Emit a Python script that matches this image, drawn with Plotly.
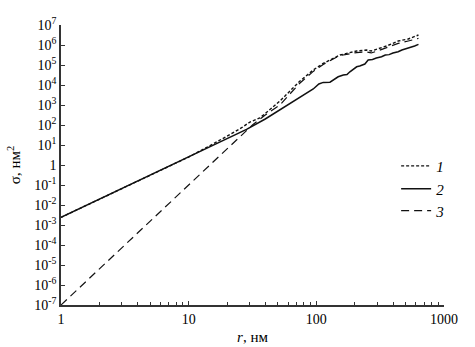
import plotly.graph_objects as go

# Curve 1 (dotted): total cross-section
r1 = [1, 10, 15.5, 25.1, 30.2, 36.1, 51.9, 63.1, 74.5, 94.6, 113.2, 135.5, 153.1,
      172.6, 207, 247.7, 269.2, 300, 354.8, 437.5, 524.8, 631]
s1 = [2.4e-3, 2.5, 11.2, 63, 141, 224, 1585, 5620, 15850, 56200, 1.2e5, 2.14e5, 3.16e5,
      3.8e5, 5.0e5, 5.6e5, 5.0e5, 6.3e5, 8.9e5, 1.58e6, 2.0e6, 3.16e6]

# Curve 2 (solid)
r2 = [1, 15.8, 28.4, 39.8, 51.9, 70.1, 87.1, 94.6, 104.7, 113.2, 127.9, 138, 148.3,
      162.6, 173.8, 183.2, 207, 218.8, 226.5, 239.9, 254.7, 275.4, 295.1, 324.3,
      346.7, 371.5, 398.1, 437.5, 467.7, 501.2, 549.5, 588.8, 631]
s2 = [2.4e-3, 9.5, 60, 200, 560, 1900, 4500, 6300, 11200, 13500, 13800, 20000, 25700,
      31600, 33100, 45700, 81300, 89100, 1.0e5, 1.12e5, 1.78e5, 1.9e5, 2.24e5, 2.57e5,
      3.16e5, 3.3e5, 3.98e5, 4.57e5, 5.6e5, 6.3e5, 7.9e5, 8.9e5, 1.07e6]

# Curve 3 (dashed)
r3 = [1, 31.6, 39.8, 51.9, 63.1, 74.5, 94.6, 113.2, 135.5, 153.1, 172.6, 207, 247.7,
      269.2, 300, 354.8, 437.5, 524.8, 631]
s3 = [1e-7, 100, 316, 1000, 3980, 12600, 47900, 1.07e5, 2.0e5, 2.95e5, 3.4e5, 4.2e5, 4.5e5,
      4.0e5, 5.0e5, 7.1e5, 1.2e6, 1.58e6, 2.14e6]

ytick_vals = [1e-7, 1e-6, 1e-5, 1e-4, 1e-3, 1e-2, 1e-1, 1, 1e1, 1e2, 1e3, 1e4, 1e5, 1e6, 1e7]
ytick_text = ["10<sup>-7</sup>", "10<sup>-6</sup>", "10<sup>-5</sup>", "10<sup>-4</sup>",
              "10<sup>-3</sup>", "10<sup>-2</sup>", "10<sup>-1</sup>", "1",
              "10<sup>1</sup>", "10<sup>2</sup>", "10<sup>3</sup>", "10<sup>4</sup>",
              "10<sup>5</sup>", "10<sup>6</sup>", "10<sup>7</sup>"]
xtick_vals = [1, 10, 100, 1000]
xtick_text = ["1", "10", "100", "1000"]
xminor_vals = [2, 3, 4, 5, 6, 7, 8, 9, 20, 30, 40, 50, 60, 70, 80, 90,
               200, 300, 400, 500, 600, 700, 800, 900]

FONT = "Liberation Serif"

fig = go.Figure()
fig.add_trace(go.Scatter(x=r1, y=s1, mode="lines", name="<i>1</i>", legend="legend",
                         showlegend=True,
                         line=dict(color="#111", width=1.4, dash="3px,2px")))
fig.add_trace(go.Scatter(x=r2, y=s2, mode="lines", name="<i>2</i>", legend="legend2",
                         showlegend=True,
                         line=dict(color="#111", width=1.5)))
fig.add_trace(go.Scatter(x=r3, y=s3, mode="lines", name="<i>3</i>", legend="legend3",
                         showlegend=True,
                         line=dict(color="#111", width=1.2, dash="8px,5px")))

leg = dict(xanchor="left", yanchor="middle", bgcolor="rgba(0,0,0,0)",
           font=dict(family=FONT, size=15, color="#000"), borderwidth=0)

fig.update_layout(
    width=475, height=347,
    showlegend=True,
    margin=dict(l=61, r=31, t=25, b=42, autoexpand=False),
    paper_bgcolor="white", plot_bgcolor="white",
    font=dict(family=FONT, size=14, color="#000"),
    legend=dict(leg, x=0.875, y=0.496),
    legend2=dict(leg, x=0.875, y=0.414),
    legend3=dict(leg, x=0.875, y=0.336),
    xaxis=dict(type="log", range=[0, 3], showgrid=False, zeroline=False, automargin=False,
               showline=True, linecolor="#333", linewidth=1.5,
               ticks="inside", ticklen=4, tickwidth=1, tickcolor="#333",
               tickvals=xtick_vals, ticktext=xtick_text,
               minor=dict(ticks="inside", ticklen=3, tickwidth=1, tickcolor="#333",
                          tickmode="array", tickvals=xminor_vals, showgrid=False),
               title=dict(text="<i>r</i>, нм", font=dict(family=FONT, size=15), standoff=6)),
    yaxis=dict(type="log", range=[-7, 7], showgrid=False, zeroline=False, automargin=False,
               showline=True, linecolor="#333", linewidth=1.5,
               ticks="inside", ticklen=4, tickwidth=1, tickcolor="#333",
               tickvals=ytick_vals, ticktext=ytick_text,
               title=dict(text="σ, нм<sup>2</sup>", font=dict(family=FONT, size=15), standoff=10)),
)

fig.write_html("out.html")
